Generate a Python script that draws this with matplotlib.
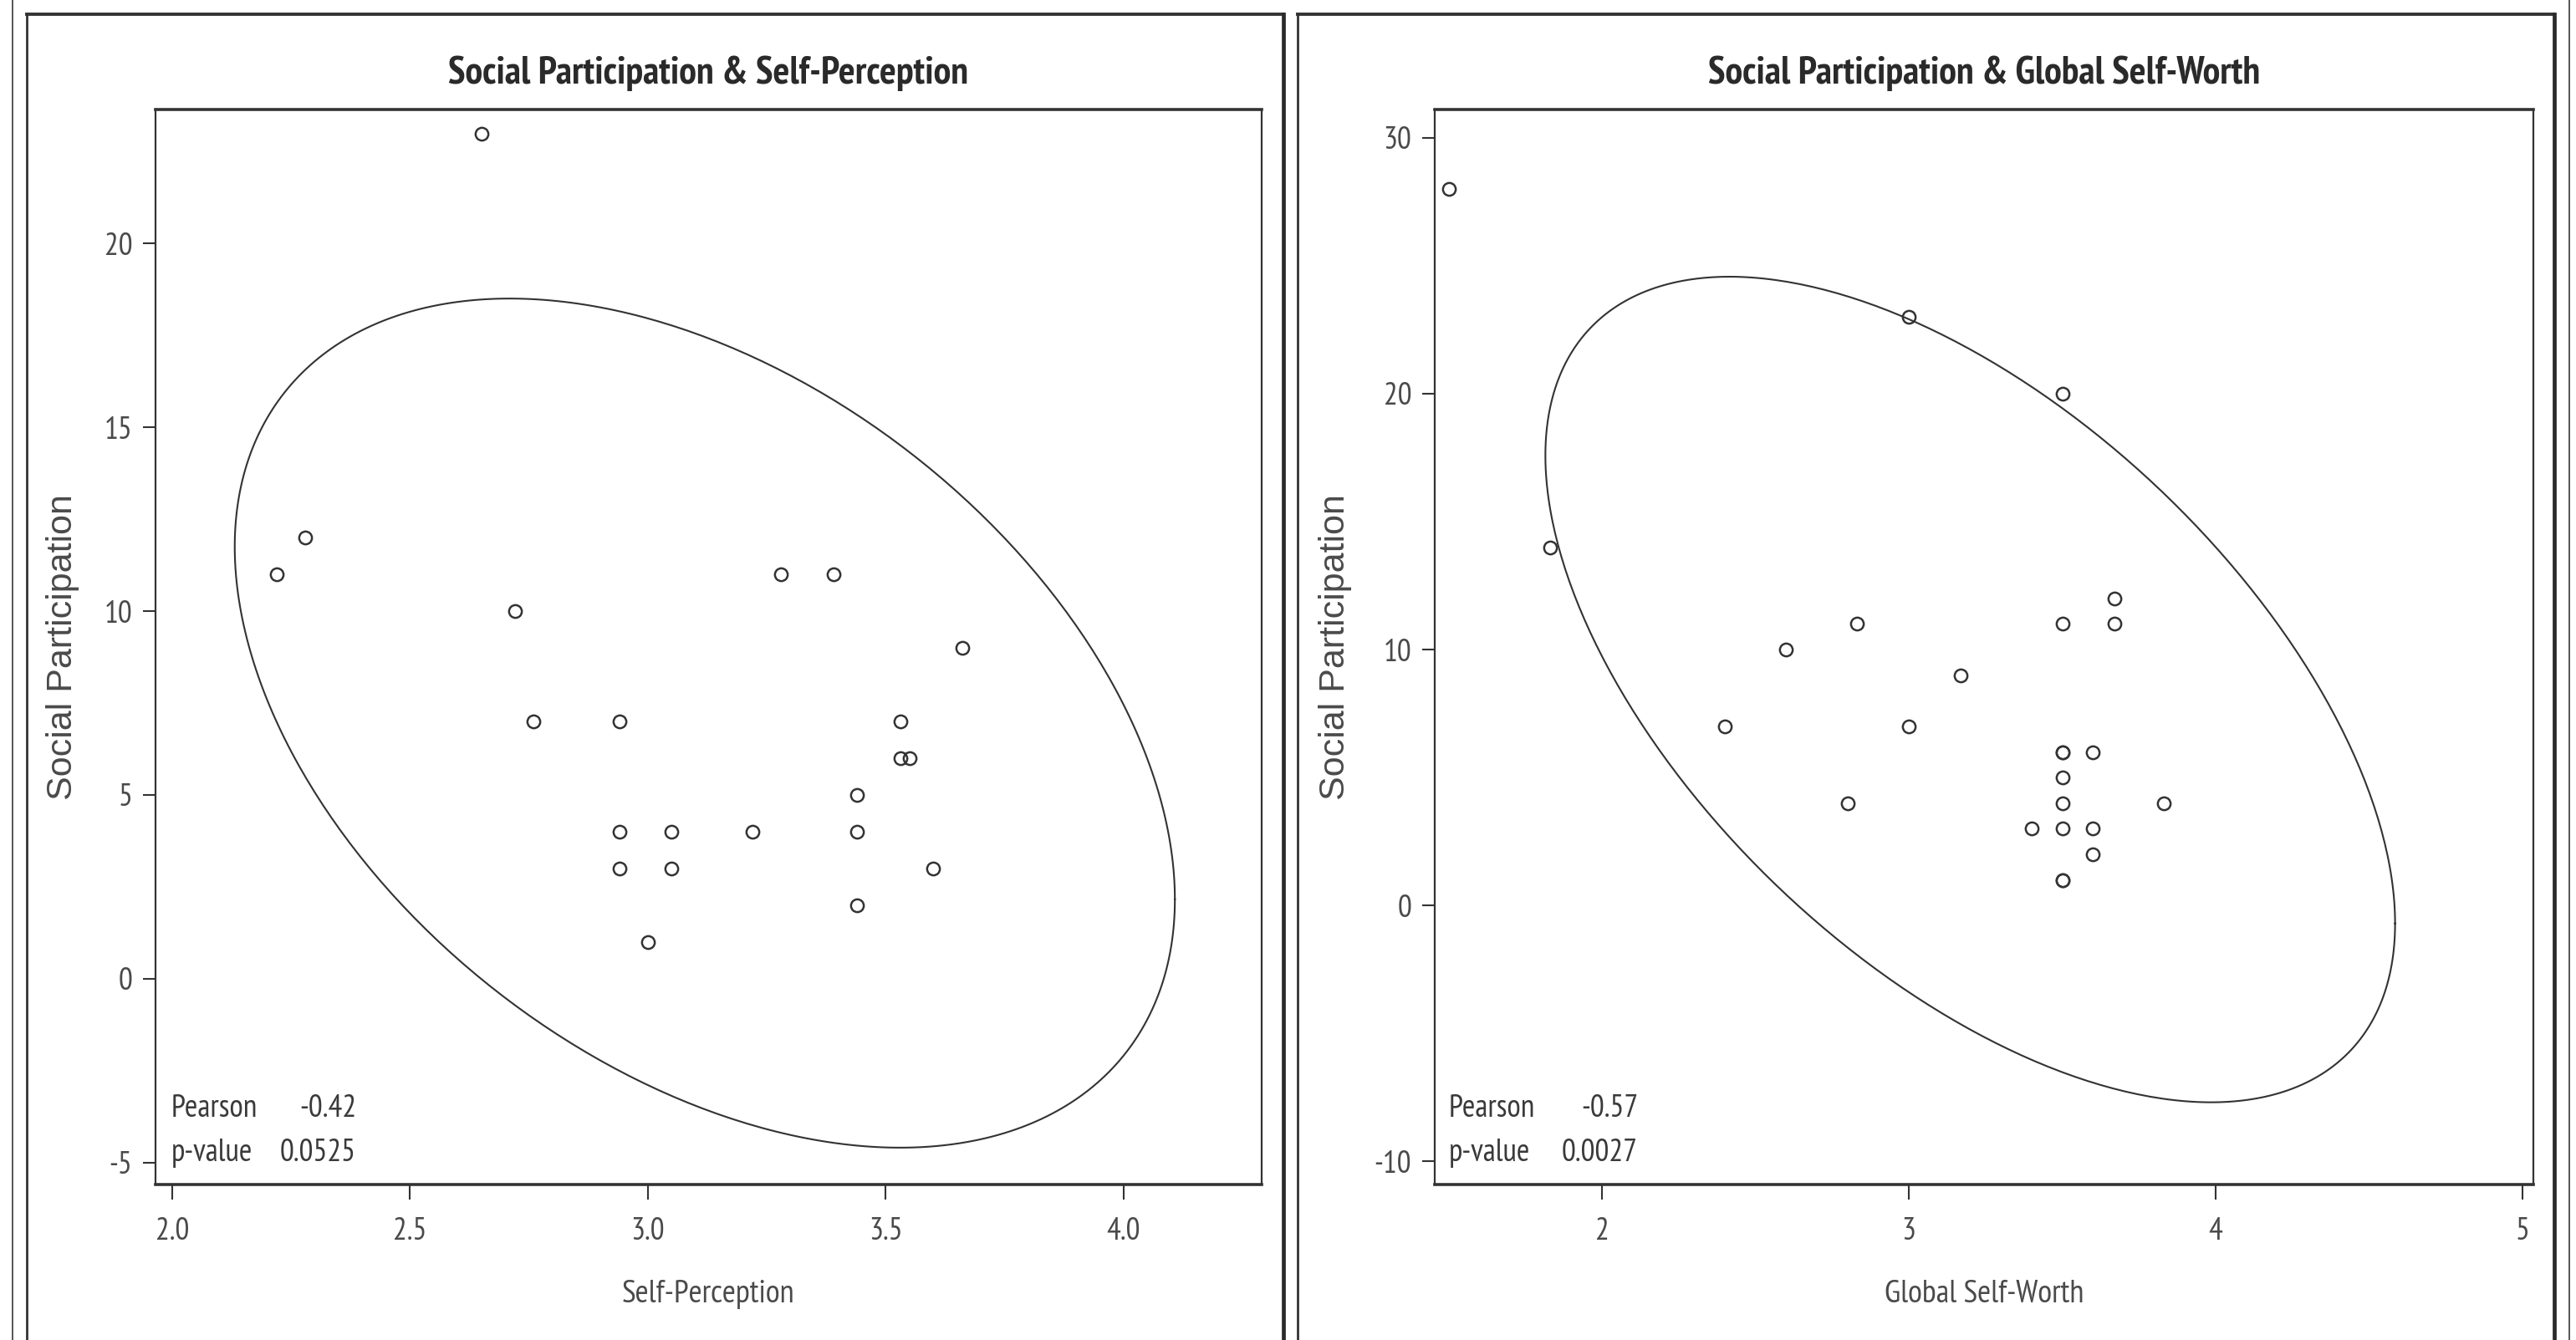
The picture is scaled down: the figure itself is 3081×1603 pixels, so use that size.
#!/usr/bin/env python3

import matplotlib

matplotlib.use("Agg")
import matplotlib.pyplot as plt
import numpy as np
from matplotlib.lines import Line2D

# left panel: self-perception vs social participation
self_perception = [2.65, 2.28, 2.22, 2.72, 3.28, 3.39, 3.66, 2.76, 2.94, 3.53, 3.53,
                   3.55, 3.44, 2.94, 3.05, 3.22, 3.44, 2.94, 3.05, 3.60, 3.44, 3.00]
social_part_sp = [23, 12, 11, 10, 11, 11, 9, 7, 7, 7, 6,
                  6, 5, 4, 4, 4, 4, 3, 3, 3, 2, 1]

# right panel: global self-worth vs social participation
# (last two sit on top of visible points, n = 25 as implied by the p-value)
global_self_worth = [1.50, 3.00, 3.50, 1.83, 3.67, 3.67, 3.50, 2.83, 2.60, 3.17, 2.40, 3.00,
                     3.50, 3.60, 3.50, 2.80, 3.50, 3.83, 3.40, 3.50, 3.60, 3.60, 3.50,
                     3.50, 3.50]
social_part_gsw = [28, 23, 20, 14, 12, 11, 11, 11, 10, 9, 7, 7,
                   6, 6, 5, 4, 4, 4, 3, 3, 3, 2, 1,
                   1, 6]

titles = ["Social Participation & Self-Perception", "Social Participation & Global Self-Worth"]
xlabels = ["Self-Perception", "Global Self-Worth"]
ylabel = "Social Participation"
pearson = ["-0.42", "-0.57"]
pvalues = ["0.0525", "0.0027"]

left_xticks = [2.0, 2.5, 3.0, 3.5, 4.0]
left_yticks = [-5, 0, 5, 10, 15, 20]
right_xticks = [2, 3, 4, 5]
right_yticks = [-10, 0, 10, 20, 30]

W, H = 3081, 1603
NARROW = ["PT Sans Narrow", "Liberation Sans", "DejaVu Sans"]
INK = "#333333"
TXT = "#4a4a4a"


def pred_ellipse(x, y, alpha=0.10, npts=400):
    # bivariate normal prediction ellipse, F(2, n-2) quantile in closed form
    x = np.asarray(x, float)
    y = np.asarray(y, float)
    n, p = len(x), 2
    cov = np.cov(x, y)
    f = (n - p) / 2 * (alpha ** (-2 / (n - p)) - 1)
    c = p * (n - 1) * (n + 1) / (n * (n - p)) * f
    L = np.linalg.cholesky(cov)
    t = np.linspace(0, 2 * np.pi, npts)
    pts = np.sqrt(c) * (L @ np.vstack([np.cos(t), np.sin(t)]))
    return x.mean() + pts[0], y.mean() + pts[1]


def px_axes(l, t, r, b):
    return [l / W, 1 - b / H, (r - l) / W, (b - t) / H]


def fig_line(x0, y0, x1, y1, lw, color=INK):
    fig.add_artist(Line2D([x0 / W, x1 / W], [1 - y0 / H, 1 - y1 / H],
                          lw=lw, color=color, transform=fig.transFigure,
                          solid_capstyle="projecting"))


fig = plt.figure(figsize=(W / 100, H / 100), dpi=100)
fig.patch.set_facecolor("white")

# panel frames
fig_line(15, 0, 15, H, 1.4, "#555555")
fig_line(32, 17, 1535, 17, 2.8)
fig_line(32, 17, 32, H, 2.0)
fig_line(1535, 17, 1535, H, 3.4, "#2a2a2a")
fig_line(1552, 17, 3055, 17, 2.8)
fig_line(1552, 17, 1552, H, 2.0)
fig_line(3055, 17, 3055, H, 3.4, "#2a2a2a")
fig_line(3073, 0, 3073, H, 1.4, "#555555")

panels = [
    dict(rect=(186, 131, 1509, 1417), x=self_perception, y=social_part_sp,
         xlim=(1.965, 4.29), ylim=(-5.6, 23.65), xticks=left_xticks,
         yticks=left_yticks, xfmt="{:.1f}", ylab_x=-0.084,
         stat_x=(0.0144, 0.1814)),
    dict(rect=(1716, 131, 3030, 1417), x=global_self_worth, y=social_part_gsw,
         xlim=(1.455, 5.035), ylim=(-10.9, 31.1), xticks=right_xticks,
         yticks=right_yticks, xfmt="{:d}", ylab_x=-0.0906,
         stat_x=(0.0129, 0.185)),
]

for i, p in enumerate(panels):
    ax = fig.add_axes(px_axes(*p["rect"]))
    ex, ey = pred_ellipse(p["x"], p["y"])
    ax.plot(ex, ey, color=INK, lw=1.5, zorder=2)
    ax.plot(p["x"], p["y"], ls="none", marker="o", ms=11, mfc="none",
            mec=INK, mew=1.8, zorder=3)

    ax.set_xlim(*p["xlim"])
    ax.set_ylim(*p["ylim"])
    ax.set_xticks(p["xticks"])
    ax.set_xticklabels([p["xfmt"].format(v) for v in p["xticks"]])
    ax.set_yticks(p["yticks"])
    ax.set_yticklabels([str(v) for v in p["yticks"]])

    for side in ["top", "bottom"]:
        ax.spines[side].set_linewidth(2.6)
        ax.spines[side].set_color(INK)
    for side in ["left", "right"]:
        ax.spines[side].set_linewidth(1.6)
        ax.spines[side].set_color(INK)

    ax.tick_params(axis="x", length=13, width=1.5, color=INK, pad=15,
                   labelsize=27, labelcolor=TXT)
    ax.tick_params(axis="y", length=11, width=1.5, color=INK, pad=9,
                   labelsize=27, labelcolor=TXT)
    for lab in ax.get_xticklabels() + ax.get_yticklabels():
        lab.set_family(NARROW)

    ax.text(0.5, 1.034, titles[i], transform=ax.transAxes, ha="center",
            va="center", fontsize=33.5, fontweight="bold", color="#2a2a2a",
            family=NARROW)
    ax.set_xlabel(xlabels[i], fontsize=28, color=TXT, family=NARROW)
    ax.xaxis.set_label_coords(0.5, -0.1026)
    ax.xaxis.label.set_va("center")
    ax.set_ylabel(ylabel, fontsize=31, color=TXT,
                  family=["Liberation Sans", "DejaVu Sans"])
    ax.yaxis.set_label_coords(p["ylab_x"], 0.5)
    ax.yaxis.label.set_va("center")

    # correlation inset
    x0, x1 = p["stat_x"]
    for yy, name, val in [(0.070, "Pearson", pearson[i]), (0.0288, "p-value", pvalues[i])]:
        ax.text(x0, yy, name, transform=ax.transAxes, ha="left", va="center",
                fontsize=27, color="#3a3a3a", family=NARROW)
        ax.text(x1, yy, val, transform=ax.transAxes, ha="right", va="center",
                fontsize=27, color="#3a3a3a", family=NARROW)

fig.savefig("out.png", dpi=100)
